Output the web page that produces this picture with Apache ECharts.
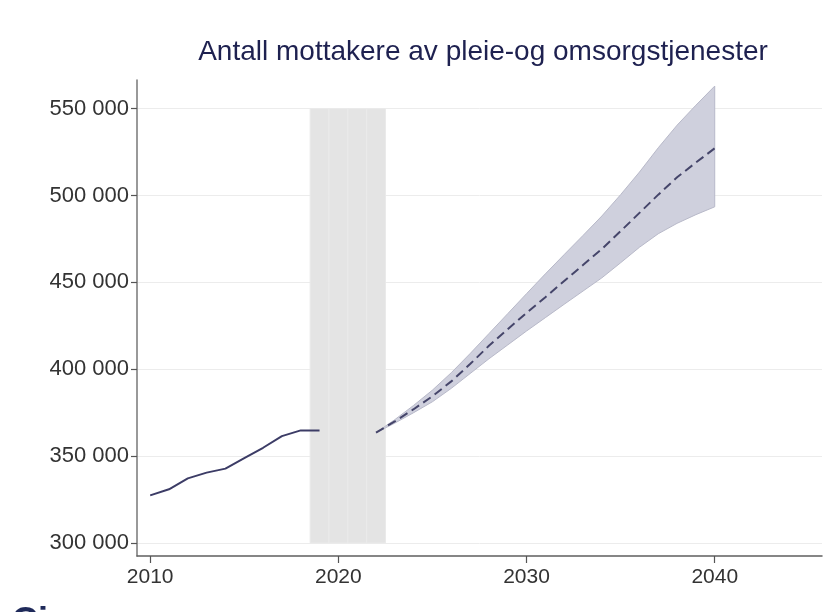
<!DOCTYPE html>
<html>
<head>
<meta charset="utf-8">
<script src="https://cdn.jsdelivr.net/npm/echarts@6/dist/echarts.min.js"></script>
<style>
html,body{margin:0;padding:0;background:#fff;}
#c{width:838px;height:612px;}
</style>
</head>
<body>
<div id="c"></div>
<script>
// ---- data ----
const titleText = 'Antall mottakere av pleie-og omsorgstjenester';
const histYears = [2010, 2011, 2012, 2013, 2014, 2015, 2016, 2017, 2018, 2019];
const histValues = [327400, 330900, 337200, 340500, 342800, 348800, 354800, 361500, 364800, 364800];
const projYears = [2022, 2023, 2024, 2025, 2026, 2027, 2028, 2029, 2030, 2031, 2032, 2033, 2034, 2035, 2036, 2037, 2038, 2039, 2040];
const projMid   = [363500, 370000, 377000, 384500, 393000, 403000, 413500, 423000, 432500, 441500, 450800, 460000, 469200, 479500, 490000, 500500, 510500, 519000, 527200];
const projUpper = [363500, 371000, 379200, 388000, 398000, 409000, 420500, 432000, 443500, 454900, 466000, 477000, 488200, 500500, 513500, 527500, 540500, 552000, 563000];
const projLower = [363500, 369000, 375000, 381300, 389000, 397500, 406000, 414000, 422000, 429700, 437400, 445000, 452600, 461300, 470200, 478000, 484000, 489000, 493500];
const shadeYears = [2019, 2020, 2021, 2022];
const shadeRange = [300000, 550000];
const xTicks = [2010, 2020, 2030, 2040];
const yTicks = [300000, 350000, 400000, 450000, 500000, 550000];

// ---- chart ----
const chart = echarts.init(document.getElementById('c'), null, {renderer: 'canvas'});
const fmt = v => String(v).replace(/\B(?=(\d{3})+(?!\d))/g, ' ');
const bandPoly = projYears.map((y, i) => [y, projUpper[i]])
  .concat(projYears.map((y, i) => [y, projLower[i]]).reverse());

const option = {
  backgroundColor: '#ffffff',
  animation: false,
  title: {
    text: titleText,
    left: 483, top: 38, textAlign: 'center', padding: 0,
    textStyle: {fontFamily: 'Liberation Sans', fontSize: 28, fontWeight: 'normal', color: '#1e2150'}
  },
  grid: {left: 137, right: 16, top: 80, bottom: 56, containLabel: false},
  xAxis: {
    type: 'value', min: 2009.3, max: 2045.7,
    axisLine: {show: true, onZero: false, lineStyle: {color: '#5f5f5f', width: 1.5}},
    axisTick: {show: true, length: 7, customValues: xTicks, lineStyle: {color: '#555', width: 1.2}},
    axisLabel: {customValues: xTicks, margin: 11, formatter: v => String(v), fontFamily: 'Liberation Sans', fontSize: 21, color: '#333'},
    splitLine: {show: false}
  },
  yAxis: {
    type: 'value', min: 292500, max: 566500,
    axisLine: {show: true, onZero: false, lineStyle: {color: '#777', width: 1.5}},
    axisTick: {show: true, length: 6, customValues: yTicks, lineStyle: {color: '#555', width: 1.2}},
    axisLabel: {customValues: yTicks, margin: 8, formatter: fmt, fontFamily: 'Liberation Sans', fontSize: 22, color: '#333'},
    splitLine: {show: true, lineStyle: {color: '#ececec', width: 1}}
  },
  graphic: [{
    type: 'text', left: 12, top: 605, silent: true,
    style: {text: 'Ci', fill: '#1f2a5a', font: 'bold 36px Liberation Sans'}
  }],
  series: [
    {
      type: 'line', name: 'shade', data: [], silent: true,
      markArea: {
        silent: true,
        itemStyle: {color: '#e4e4e4', borderColor: '#eaeaea', borderWidth: 1},
        data: shadeYears.map(y => [{coord: [y - 0.5, shadeRange[0]]}, {coord: [y + 0.5, shadeRange[1]]}])
      }
    },
    {
      type: 'custom', name: 'band', silent: true, z: 3,
      data: [0],
      renderItem: (params, api) => ({
        type: 'polygon',
        shape: {points: bandPoly.map(p => api.coord(p))},
        style: {fill: '#cfd0dd', stroke: '#b8b9c9', lineWidth: 1}
      })
    },
    {
      type: 'line', name: 'hist', z: 4, showSymbol: false, symbol: 'none',
      data: histYears.map((y, i) => [y, histValues[i]]),
      lineStyle: {color: '#3c3c66', width: 2}
    },
    {
      type: 'line', name: 'proj', z: 4, showSymbol: false, symbol: 'none',
      data: projYears.map((y, i) => [y, projMid[i]]),
      lineStyle: {color: '#45456a', width: 2, type: [9, 5]}
    }
  ]
};
chart.setOption(option);
</script>
</body>
</html>
